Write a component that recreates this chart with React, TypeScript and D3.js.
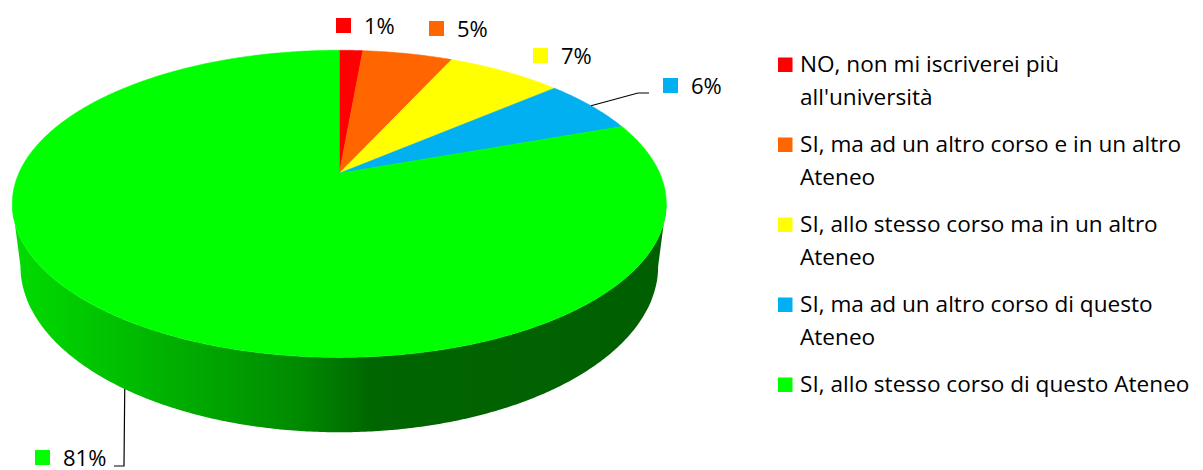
import React from "react";
import * as d3 from "d3";

const categories = [
  "NO, non mi iscriverei più all'università",
  "SI, ma ad un altro corso e in un altro Ateneo",
  "SI, allo stesso corso ma in un altro Ateneo",
  "SI, ma ad un altro corso di questo Ateneo",
  "SI, allo stesso corso di questo Ateneo",
];
const legendLines = [
  ["NO, non mi iscriverei più", "all'università"],
  ["SI, ma ad un altro corso e in un altro", "Ateneo"],
  ["SI, allo stesso corso ma in un altro", "Ateneo"],
  ["SI, ma ad un altro corso di questo", "Ateneo"],
  ["SI, allo stesso corso di questo Ateneo"],
];
const values = [1.4, 5.4, 6.9, 5.8, 80.5];
const colors = ["#ff0000", "#ff6600", "#ffff00", "#00b0f0", "#00ff00"];

// layout for data labels (marker top-left)
const labelPos: [number, number][] = [
  [336, 18],
  [429, 21],
  [533, 48],
  [663, 78],
  [35, 450],
];

const W = 1203;
const H = 470;
const cx = 339.3;
const A = 320.5; // horizontal radius scale
const A2 = A * 0.975;
const a0 = 173.3; // projected center y
const b0 = 113.07;
const p = -0.1987;
const depth = 60;

function top(phi: number): [number, number] {
  const x = Math.sin(phi);
  const y = -Math.cos(phi);
  const d = 1 + p * y;
  return [cx + (A * x) / d, (a0 + b0 * y) / d];
}
function bottom(phi: number): [number, number] {
  const x = Math.sin(phi);
  const y = -Math.cos(phi);
  const d = 1 + p * y;
  return [cx + (A2 * x) / d, (a0 + b0 * y + depth) / d];
}
function arcPts(f: (p: number) => [number, number], p0: number, p1: number) {
  const n = Math.max(2, Math.ceil(Math.abs(p1 - p0) / (Math.PI / 360)));
  const pts: [number, number][] = [];
  for (let i = 0; i <= n; i++) pts.push(f(p0 + ((p1 - p0) * i) / n));
  return pts;
}

export default function App() {
  const pie = d3
    .pie<number>()
    .sort(null)
    .value((d) => d)
    .startAngle(0)
    .endAngle(2 * Math.PI);
  const arcs = pie(values);
  const line = d3.line();

  const phiR = Math.acos(p);
  const phiL = 2 * Math.PI - phiR;
  const sidePts = [...arcPts(top, phiR, phiL), ...arcPts(bottom, phiL, phiR)];
  const sidePath = line(sidePts) + "Z";

  const slicePaths = arcs.map((a) => {
    const pts: [number, number][] = [[cx, a0], ...arcPts(top, a.startAngle, a.endAngle)];
    return line(pts) + "Z";
  });

  const fmt = (v: number) => Math.round(v) + "%";
  const mid = (a: any) => (a.startAngle + a.endAngle) / 2;

  const blueStart = top(mid(arcs[3]));
  const greenStart = bottom(mid(arcs[4]));

  const font = "'Open Sans', sans-serif";

  return (
    <div style={{ position: "fixed", left: 0, top: 0 }}>
      <svg width={W} height={H} style={{ display: "block" }}>
        <defs>
          <linearGradient id="side" gradientUnits="userSpaceOnUse" x1={12} x2={666} y1={0} y2={0}>
            <stop offset="0" stopColor="#00dd00" />
            <stop offset="0.135" stopColor="#00c400" />
            <stop offset="0.287" stopColor="#00a800" />
            <stop offset="0.44" stopColor="#008a00" />
            <stop offset="0.55" stopColor="#006600" />
            <stop offset="1" stopColor="#005f00" />
          </linearGradient>
        </defs>
        <rect width={W} height={H} fill="#fff" />
        <path d={sidePath} fill="url(#side)" />
        {slicePaths.map((d, i) => (
          <path key={i} d={d} fill={colors[i]} stroke={colors[i]} strokeWidth={0.5} />
        ))}
        <polyline
          points={`${blueStart[0]},${blueStart[1]} 638,93 649,93`}
          fill="none"
          stroke="#000"
          strokeWidth={1.2}
        />
        <polyline
          points={`${greenStart[0]},${greenStart[1]} 124,466 114,466`}
          fill="none"
          stroke="#000"
          strokeWidth={1.2}
        />
        {arcs.map((a, i) => (
          <g key={i}>
            <rect x={labelPos[i][0]} y={labelPos[i][1]} width={15} height={15} fill={colors[i]} />
            <text
              x={labelPos[i][0] + 28}
              y={labelPos[i][1] + 15.5}
              fontFamily={font}
              fontSize={22}
              fill="#000"
            >
              {fmt(a.data)}
            </text>
          </g>
        ))}
        {categories.map((c, i) => {
          const y0 = 72 + i * 80;
          return (
            <g key={c}>
              <rect x={778} y={y0 - 14.5} width={14.5} height={14.5} fill={colors[i]} />
              {legendLines[i].map((l, j) => (
                <text key={j} x={800} y={y0 + j * 33} fontFamily={font} fontSize={22.6} fill="#000">
                  {l}
                </text>
              ))}
            </g>
          );
        })}
      </svg>
    </div>
  );
}
